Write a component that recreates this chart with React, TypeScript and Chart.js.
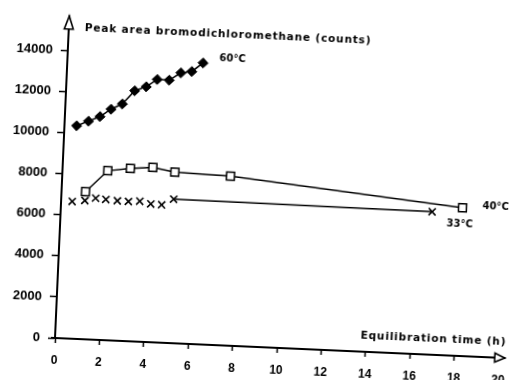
import React, { useEffect, useRef } from 'react';
import { Chart, registerables } from 'chart.js';

Chart.register(...registerables);

// ---- data ----
const hours60 = [0.55, 1.07, 1.58, 2.06, 2.56, 3.09, 3.6, 4.08, 4.62, 5.13, 5.62, 6.11];
const counts60 = [10370, 10620, 10870, 11250, 11530, 12200, 12420, 12800, 12790, 13170, 13260, 13700];

const hours40 = [1.08, 2.04, 3.05, 4.06, 5.06, 7.57, 18.07];
const counts40 = [7180, 8250, 8410, 8510, 8330, 8250, 7220];

const hours33 = [0.5, 1.07, 1.55, 2.01, 2.53, 3.03, 3.54, 4.04, 4.53, 5.06, 16.71];
const counts33 = [6680, 6750, 6890, 6850, 6810, 6800, 6840, 6730, 6710, 7010, 6960];

const seriesLabels = ['60°C', '40°C', '33°C'];
const xTicks = [0, 2, 4, 6, 8, 10, 12, 14, 16, 18, 20];
const yTicks = [0, 2000, 4000, 6000, 8000, 10000, 12000, 14000];
const xMax = 20.27;
const yMax = 15690;
const yTitle = 'Peak area bromodichloromethane (counts)';
const xTitle = 'Equilibration time (h)';

const INK = '#000';

const pts = (xs: number[], ys: number[]) => xs.map((x, i) => ({ x, y: ys[i] }));

// draw text left-aligned, spreading letters so that it spans the given width
function spreadText(ctx: any, text: string, left: number, baseline: number, width: number) {
  ctx.save();
  ctx.textAlign = 'left';
  ctx.textBaseline = 'alphabetic';
  const natural = ctx.measureText(text).width;
  const extra = (width - natural) / Math.max(1, text.length - 1);
  if ('letterSpacing' in ctx) {
    ctx.letterSpacing = `${extra}px`;
    ctx.fillText(text, left, baseline);
  } else {
    let x = left;
    for (const ch of text) {
      ctx.fillText(ch, x, baseline);
      x += ctx.measureText(ch).width + extra;
    }
  }
  ctx.restore();
}

const decorPlugin = {
  id: 'decor',
  afterDraw(chart: any) {
    const { ctx, chartArea: ca, scales } = chart;
    const xs = scales.x;
    const ys = scales.y;
    ctx.save();
    ctx.fillStyle = INK;
    ctx.strokeStyle = INK;
    ctx.lineWidth = 1.6;
    ctx.lineJoin = 'miter';

    // y arrow (hollow)
    const yTipX = ca.left;
    const yTipY = ca.top;
    ctx.beginPath();
    ctx.moveTo(yTipX, yTipY);
    ctx.lineTo(yTipX - 4.5, yTipY + 13);
    ctx.lineTo(yTipX + 4.5, yTipY + 13);
    ctx.closePath();
    ctx.fillStyle = '#fff';
    ctx.fill();
    ctx.stroke();

    // x arrow (hollow)
    const xTipX = ca.right;
    const xTipY = ca.bottom;
    ctx.beginPath();
    ctx.moveTo(xTipX, xTipY);
    ctx.lineTo(xTipX - 10, xTipY - 4.5);
    ctx.lineTo(xTipX - 10, xTipY + 4.5);
    ctx.closePath();
    ctx.fill();
    ctx.stroke();

    // small overshoot of the x axis to the left of the y axis
    ctx.lineWidth = 2;
    ctx.beginPath();
    ctx.moveTo(ca.left - 4, ca.bottom);
    ctx.lineTo(ca.left, ca.bottom);
    ctx.stroke();

    ctx.fillStyle = INK;
    // axis titles
    ctx.font = 'bold 10.5px "DejaVu Sans"';
    spreadText(ctx, yTitle, ca.left + 16, ca.top + 14.5, 286);
    spreadText(ctx, xTitle, ca.right - 145, ca.bottom - 13, 145);

    // series labels next to last points
    ctx.font = 'bold 10px "DejaVu Sans"';
    ctx.textBaseline = 'middle';
    const l60x = xs.getPixelForValue(hours60[hours60.length - 1]);
    const l60y = ys.getPixelForValue(counts60[counts60.length - 1]);
    ctx.textAlign = 'left';
    ctx.fillText(seriesLabels[0], l60x + 16, l60y - 5.5);
    const l40x = xs.getPixelForValue(hours40[hours40.length - 1]);
    const l40y = ys.getPixelForValue(counts40[counts40.length - 1]);
    ctx.fillText(seriesLabels[1], l40x + 20, l40y - 2);
    const l33x = xs.getPixelForValue(hours33[hours33.length - 1]);
    const l33y = ys.getPixelForValue(counts33[counts33.length - 1]);
    ctx.textAlign = 'center';
    ctx.fillText(seriesLabels[2], l33x + 28, l33y + 11);
    ctx.restore();
  },
};

export default function App() {
  const ref = useRef<HTMLCanvasElement | null>(null);

  useEffect(() => {
    if (!ref.current) return;
    Chart.defaults.color = INK;
    const last33 = hours33.length - 1;
    const chart = new Chart(ref.current, {
      type: 'scatter',
      data: {
        datasets: [
          {
            label: seriesLabels[0],
            data: pts(hours60, counts60),
            showLine: true,
            borderColor: INK,
            borderWidth: 1.5,
            pointStyle: 'rectRot',
            pointRadius: 5,
            pointBorderWidth: 1,
            pointBackgroundColor: INK,
            pointBorderColor: INK,
          },
          {
            label: seriesLabels[1],
            data: pts(hours40, counts40),
            showLine: true,
            borderColor: INK,
            borderWidth: 1.5,
            pointStyle: 'rect',
            pointRadius: 5.6,
            pointBorderWidth: 1.5,
            pointBackgroundColor: '#fff',
            pointBorderColor: INK,
          },
          {
            label: seriesLabels[2],
            data: pts(hours33, counts33),
            showLine: true,
            borderColor: INK,
            borderWidth: 1.5,
            segment: {
              borderColor: (c: any) => (c.p1DataIndex === last33 ? INK : 'rgba(0,0,0,0)'),
            },
            pointStyle: 'crossRot',
            pointRadius: 5,
            pointBorderWidth: 1.6,
            pointBackgroundColor: INK,
            pointBorderColor: INK,
          },
        ],
      },
      options: {
        responsive: false,
        animation: false,
        layout: { padding: { top: 13, right: 3.5, left: 0, bottom: 0 } },
        plugins: { legend: { display: false }, tooltip: { enabled: false } },
        scales: {
          x: {
            type: 'linear',
            min: 0,
            max: xMax,
            afterBuildTicks: (s: any) => {
              s.ticks = xTicks.map((v) => ({ value: v }));
            },
            afterFit: (s: any) => {
              s.height = 42;
            },
            grid: {
              display: true,
              drawOnChartArea: false,
              drawTicks: true,
              tickLength: 5,
              tickWidth: 1.5,
              tickColor: (c: any) => (c.tick && c.tick.value === 20 ? 'rgba(0,0,0,0)' : INK),
            },
            border: { display: true, color: INK, width: 2 },
            ticks: {
              color: INK,
              padding: 10,
              maxRotation: 0,
              autoSkip: false,
              font: { family: '"Liberation Sans"', weight: 'bold', size: 12 },
              callback: (v: any) => String(v),
            },
          },
          y: {
            type: 'linear',
            min: 0,
            max: yMax,
            afterBuildTicks: (s: any) => {
              s.ticks = yTicks.map((v) => ({ value: v }));
            },
            afterFit: (s: any) => {
              s.width = 55;
            },
            grid: {
              display: true,
              drawOnChartArea: false,
              drawTicks: true,
              tickLength: 7,
              tickWidth: 1.5,
              tickColor: INK,
            },
            border: { display: true, color: INK, width: 2 },
            ticks: {
              color: INK,
              padding: 8,
              autoSkip: false,
              font: { family: '"Liberation Sans"', weight: 'bold', size: 13 },
              callback: (v: any) => String(v),
            },
          },
        },
      },
      plugins: [decorPlugin],
    } as any);
    return () => chart.destroy();
  }, []);

  return (
    <div
      style={{
        position: 'fixed',
        left: 0,
        top: 0,
        width: 516,
        height: 380,
        overflow: 'hidden',
        background: '#fff',
      }}
    >
      <canvas
        ref={ref}
        width={516}
        height={380}
        style={{
          position: 'absolute',
          left: 0,
          top: 0,
          width: 516,
          height: 380,
          transform: 'rotate(2.55deg)',
          transformOrigin: '55px 338px',
        }}
      />
    </div>
  );
}
